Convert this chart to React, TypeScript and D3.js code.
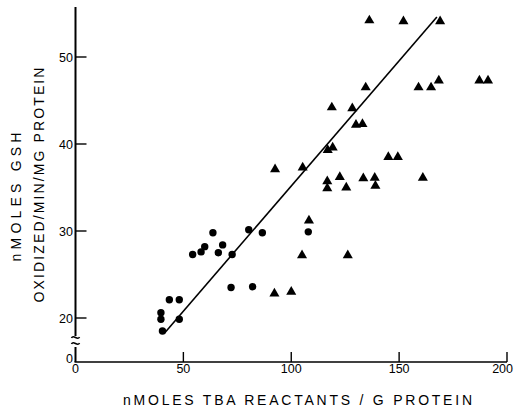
import React, { useEffect, useRef } from "react";
import * as d3 from "d3";

// circles (x = nmoles TBA reactants / g protein, y = nmoles GSH oxidized)
const circleX = [39.6, 39.6, 40.3, 43.5, 48.1, 48.1, 54.3, 58.2, 59.9, 63.7, 66.2, 68.2, 72.6, 72.1, 80.3, 86.6, 82.1, 107.9];
const circleY = [20.6, 19.85, 18.5, 22.1, 22.1, 19.85, 27.3, 27.6, 28.2, 29.8, 27.5, 28.4, 27.3, 23.5, 30.15, 29.8, 23.6, 29.9];

// triangles
const triX = [92.5, 105.3, 108.2, 105, 92.2, 100, 126.2, 116.7, 116.7, 122.5, 125.5, 133.4, 138.7, 139, 161, 145, 149.4, 116.9, 119.2, 118.8, 128.3, 130, 133, 134.5, 159, 164.8, 168.4, 187.2, 191.2, 136.2, 152, 169];
const triY = [37.1, 37.3, 31.2, 27.2, 22.8, 23.0, 27.2, 35.7, 34.9, 36.2, 35.0, 36.05, 36.1, 35.2, 36.1, 38.5, 38.5, 39.3, 39.6, 44.2, 44.1, 42.2, 42.3, 46.5, 46.5, 46.5, 47.3, 47.3, 47.3, 54.2, 54.1, 54.1];

// regression line
const lineX = [41, 167.5];
const lineY = [18.2, 54.6];

const xTicks = [0, 50, 100, 150, 200];
const yTicks = [20, 30, 40, 50];

export default function App() {
    const ref = useRef<SVGSVGElement>(null);

    useEffect(() => {
        const svg = d3.select(ref.current);
        svg.selectAll("*").remove();

        const font = "'Liberation Sans', Arial, sans-serif";
        const x = d3.scaleLinear().domain([0, 200]).range([75.5, 507]);
        const y = d3.scaleLinear().domain([20, 50]).range([318, 57]);
        const axisY = 362;
        const axisTop = 7;

        const g = svg.append("g");

        // y axis with break
        g.append("line").attr("x1", x(0)).attr("x2", x(0))
            .attr("y1", axisTop).attr("y2", 336)
            .attr("stroke", "#000").attr("stroke-width", 2);
        g.append("line").attr("x1", x(0)).attr("x2", x(0))
            .attr("y1", 347).attr("y2", axisY)
            .attr("stroke", "#000").attr("stroke-width", 2);
        [336, 342].forEach(function(b) {
            g.append("path")
                .attr("d", `M${x(0) - 4},${b + 2} C${x(0) - 2},${b - 2} ${x(0) + 2},${b + 5} ${x(0) + 4},${b + 1}`)
                .attr("fill", "none").attr("stroke", "#000").attr("stroke-width", 1.6);
        });

        // x axis
        g.append("line").attr("x1", x(0) - 1).attr("x2", x(200))
            .attr("y1", axisY).attr("y2", axisY)
            .attr("stroke", "#000").attr("stroke-width", 1.6);

        xTicks.slice(1).forEach(function(t) {
            g.append("line").attr("x1", x(t)).attr("x2", x(t))
                .attr("y1", axisY).attr("y2", axisY - 10)
                .attr("stroke", "#000").attr("stroke-width", 1.4);
        });
        xTicks.forEach(function(t, i) {
            // last label nudged left so it stays on the page
            const last = i === xTicks.length - 1;
            g.append("text").attr("x", last ? x(t) + 6 : x(t)).attr("y", 373)
                .attr("text-anchor", last ? "end" : "middle")
                .attr("font-family", font).attr("font-size", 12.5)
                .text(t);
        });

        yTicks.forEach(function(t) {
            g.append("line").attr("x1", x(0)).attr("x2", x(0) + 11)
                .attr("y1", y(t)).attr("y2", y(t))
                .attr("stroke", "#000").attr("stroke-width", 1.4);
            g.append("text").attr("x", 73).attr("y", y(t) + 4.5)
                .attr("text-anchor", "end")
                .attr("font-family", font).attr("font-size", 12.5)
                .text(t);
        });
        g.append("text").attr("x", 73).attr("y", axisY + 1)
            .attr("text-anchor", "end")
            .attr("font-family", font).attr("font-size", 12.5)
            .text(0);

        // axis labels
        g.append("text").attr("x", 297.5).attr("y", 405)
            .attr("text-anchor", "middle")
            .attr("font-family", font).attr("font-size", 14)
            .attr("textLength", 349).attr("lengthAdjust", "spacing")
            .text("nMOLES TBA REACTANTS / G PROTEIN");

        g.append("text")
            .attr("transform", "translate(21,197) rotate(-90)")
            .attr("text-anchor", "middle")
            .attr("font-family", font).attr("font-size", 14)
            .attr("textLength", 129).attr("lengthAdjust", "spacing")
            .text("nMOLES GSH");
        g.append("text")
            .attr("transform", "translate(44,185) rotate(-90)")
            .attr("text-anchor", "middle")
            .attr("font-family", font).attr("font-size", 14)
            .attr("textLength", 235).attr("lengthAdjust", "spacing")
            .text("OXIDIZED/MIN/MG PROTEIN");

        // regression line
        const line = d3.line<number>()
            .x(function(d, i) { return x(lineX[i]); })
            .y(function(d, i) { return y(lineY[i]); });
        g.append("path").datum(lineX)
            .attr("d", line)
            .attr("fill", "none").attr("stroke", "#000").attr("stroke-width", 1.6);

        // circles
        g.selectAll(".dot")
            .data(circleX).enter()
            .append("circle")
            .attr("class", "dot")
            .attr("cx", function(d) { return x(d); })
            .attr("cy", function(d, i) { return y(circleY[i]); })
            .attr("r", 3.7)
            .attr("fill", "#000");

        // triangles
        const tri = d3.symbol().type(d3.symbolTriangle).size(44);
        g.selectAll(".tri")
            .data(triX).enter()
            .append("path")
            .attr("class", "tri")
            .attr("d", tri)
            .attr("transform", function(d, i) {
                return "translate(" + x(d) + "," + y(triY[i]) + ")";
            })
            .attr("fill", "#000");
    }, []);

    return (
        <svg ref={ref} width={515} height={411}
            style={{ position: "absolute", left: 0, top: 0, background: "#fff" }} />
    );
}
